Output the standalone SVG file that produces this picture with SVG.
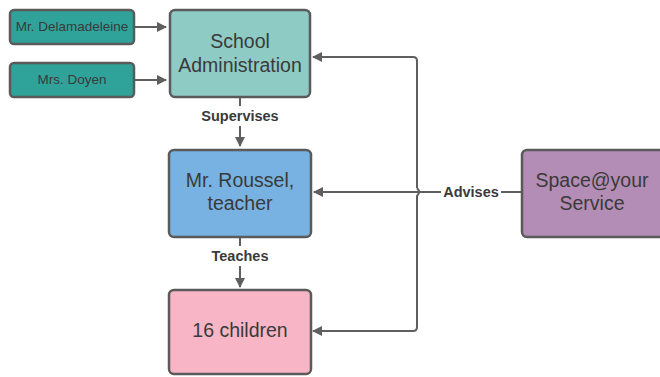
<svg xmlns="http://www.w3.org/2000/svg" width="660" height="377" viewBox="0 0 660 377">
<style>
.box{stroke:#5a5a5a;stroke-width:2.5}
.t{font-family:"Liberation Sans",Arial,sans-serif;fill:#3a3a3a;text-anchor:middle}
.lbl{font-family:"Liberation Sans",Arial,sans-serif;font-weight:bold;font-size:14.5px;fill:#3a3a3a;text-anchor:middle}
.c{fill:none;stroke:#5f5f5f;stroke-width:2}
</style>
<defs>
<marker id="ah" markerWidth="10" markerHeight="10" refX="9" refY="5" orient="auto" markerUnits="userSpaceOnUse">
<path d="M0,0 L10,5 L0,10 Z" fill="#5f5f5f"/>
</marker>
</defs>
<rect width="660" height="377" fill="#fff"/>
<g id="connectors">
<path class="c" d="M134,27 H166" marker-end="url(#ah)"/>
<path class="c" d="M134,80 H166" marker-end="url(#ah)"/>
<path class="c" d="M240,98 V106"/>
<path class="c" d="M240,126 V146" marker-end="url(#ah)"/>
<path class="c" d="M240,238 V246"/>
<path class="c" d="M240,266 V287" marker-end="url(#ah)"/>
<path class="c" d="M417,188 V61 Q417,57 413,57 H313" marker-end="url(#ah)"/>
<path class="c" d="M417,188 Q421,192 417,196 V327 Q417,331 413,331 H313" marker-end="url(#ah)"/>
<path class="c" d="M522,192 H501"/>
<path class="c" d="M441,192 H314" marker-end="url(#ah)"/>
<text class="lbl" x="240" y="121">Supervises</text>
<text class="lbl" x="240" y="261">Teaches</text>
<text class="lbl" x="471" y="197">Advises</text>
</g>
<g id="delamadeleine">
<rect class="box" x="10" y="10" width="124" height="34" rx="4" fill="#2fa39a"/>
<text class="t" x="72" y="31" font-size="13.5">Mr. Delamadeleine</text>
</g>
<g id="doyen">
<rect class="box" x="10" y="63" width="124" height="34" rx="4" fill="#2fa39a"/>
<text class="t" x="72" y="84" font-size="13.5">Mrs. Doyen</text>
</g>
<g id="admin">
<rect class="box" x="170" y="10" width="140" height="87" rx="5" fill="#8fcbc5"/>
<text class="t" x="240" y="48" font-size="19.5">School</text>
<text class="t" x="240" y="72" font-size="19.5">Administration</text>
</g>
<g id="roussel">
<rect class="box" x="169" y="150" width="142" height="87" rx="5" fill="#77b2e2"/>
<text class="t" x="240" y="187" font-size="19.5">Mr. Roussel,</text>
<text class="t" x="240" y="210" font-size="19.5">teacher</text>
</g>
<g id="children">
<rect class="box" x="169" y="290" width="142" height="84" rx="5" fill="#f8b5c5"/>
<text class="t" x="240" y="337" font-size="19.5">16 children</text>
</g>
<g id="space">
<rect class="box" x="522" y="150" width="145" height="87" rx="5" fill="#b38db5"/>
<text class="t" x="592" y="187" font-size="19.5">Space@your</text>
<text class="t" x="592" y="210" font-size="19.5">Service</text>
</g>
</svg>
